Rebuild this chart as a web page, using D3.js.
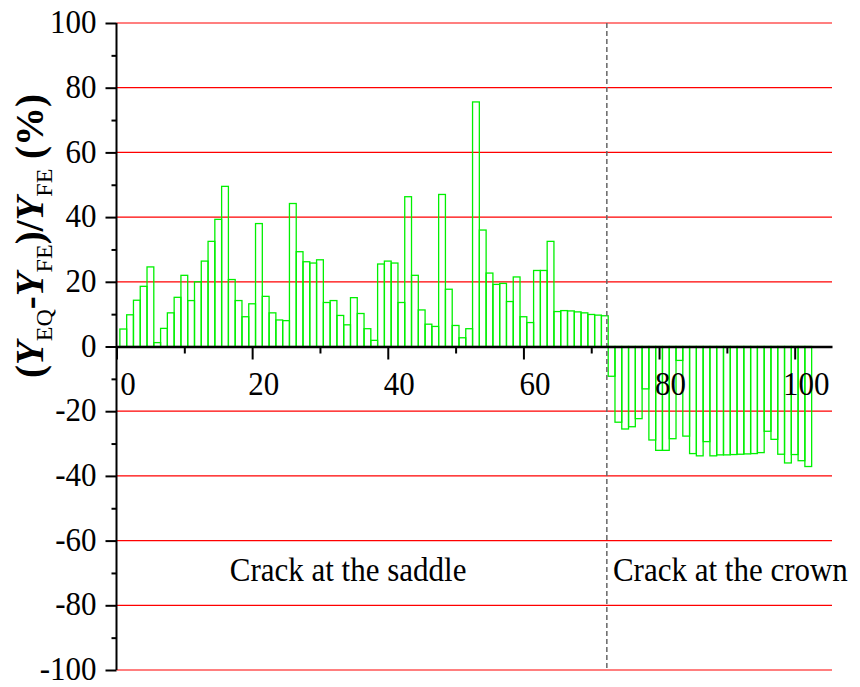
<!DOCTYPE html>
<meta charset="utf-8">
<script src="https://d3js.org/d3.v7.min.js"></script>
<style>
  body { margin: 0; background: #fff; }
  text { font-family: "Liberation Serif", "Times New Roman", serif; }
  .stretch { transform-box: fill-box; transform-origin: center; transform: scaleY(1.12); }
</style>
<div id="chart"></div>
<script>

// values, bar n is centred on x = n
var saddleValues = [5.4, 9.8, 14.3, 18.6, 24.6, 1.2, 5.6, 10.4, 15.2, 22.0,
  14.2, 20.0, 26.4, 32.5, 39.3, 49.5, 20.7, 14.2, 9.2, 13.2,
  38.0, 15.5, 10.4, 8.2, 8.0, 44.2, 29.3, 26.2, 25.8, 26.8,
  13.6, 14.2, 9.6, 6.7, 15.1, 10.2, 5.5, 1.9, 25.5, 26.4,
  25.8, 13.6, 46.3, 22.0, 11.3, 6.9, 6.2, 47.0, 17.7, 6.5,
  2.7, 5.5, 75.6, 36.0, 22.7, 19.2, 19.5, 13.9, 21.5, 9.2,
  7.4, 23.5, 23.5, 32.5, 10.8, 11.1, 11.0, 10.7, 10.4, 9.9,
  9.7, 9.5];
var crownValues = [-9.2, -23.4, -25.5, -24.8, -22.3, -13.1, -28.9, -32.1, -32.1, -28.5,
  -4.3, -27.7, -33.1, -33.8, -29.4, -33.8, -33.5, -33.5, -33.4, -33.3,
  -33.2, -33.1, -32.8, -26.2, -28.7, -33.3, -36.0, -33.4, -35.3, -37.1];

var xTicks = [0, 20, 40, 60, 80, 100];
var yTicks = [-100, -80, -60, -40, -20, 0, 20, 40, 60, 80, 100];
var divider = 72.3;
var labels = [
  {text: "Crack at the saddle", x: 16.7, y: -72.2},
  {text: "Crack at the crown", x: 73.2, y: -72.2}
];

var data = saddleValues.concat(crownValues).map(function (v, i) {
  return {n: i + 1, v: v};
});

var width = 860, height = 687;

var svg = d3.select("#chart")
  .append("svg")
    .attr("width", width)
    .attr("height", height);

var x = d3.scaleLinear().domain([0, 105.5]).range([116.5, 832]);
var y = d3.scaleLinear().domain([-100, 100]).range([670, 23]);

// plain hyphen for negatives, like the original
var fmt = function (d) { return String(d); };

// red grid lines
svg.append("g")
  .selectAll("line")
  .data(yTicks.filter(function (d) { return d !== 0; }))
  .enter()
  .append("line")
    .attr("x1", x(0)).attr("x2", x(105.5))
    .attr("y1", function (d) { return y(d); })
    .attr("y2", function (d) { return y(d); })
    .attr("stroke", "#ff0000")
    .attr("stroke-width", 1.2);

// bars (outline only)
svg.append("g")
  .selectAll("rect")
  .data(data)
  .enter()
  .append("rect")
    .attr("x", function (d) { return x(d.n - 0.5); })
    .attr("width", function (d) { return x(d.n + 0.5) - x(d.n - 0.5); })
    .attr("y", function (d) { return y(Math.max(0, d.v)); })
    .attr("height", function (d) { return Math.abs(y(d.v) - y(0)); })
    .attr("fill", "none")
    .attr("stroke", "#00f000")
    .attr("stroke-width", 1.3);

// dashed divider
svg.append("line")
  .attr("x1", x(divider)).attr("x2", x(divider))
  .attr("y1", y(100)).attr("y2", y(-100))
  .attr("stroke", "#666")
  .attr("stroke-width", 1.5)
  .attr("stroke-dasharray", "5,3");

// Y axis
var yAxis = svg.append("g")
  .attr("transform", "translate(" + x(0) + ",0)")
  .call(d3.axisLeft(y).tickValues(yTicks).tickFormat(fmt).tickSize(11).tickPadding(9));
yAxis.select(".domain").attr("stroke-width", 2).attr("d", "M0," + y(100) + "V" + y(-100));
yAxis.selectAll(".tick line").attr("stroke-width", 2);
yAxis.selectAll(".tick text")
  .attr("class", "stretch")
  .attr("font-size", 31)
  .attr("font-family", "Liberation Serif")
  .attr("fill", "#000")
  .attr("dy", "0.27em");

svg.append("g")
  .attr("transform", "translate(" + x(0) + ",0)")
  .call(d3.axisLeft(y).tickValues(d3.range(-90, 100, 20)).tickSize(5).tickFormat(""))
  .call(function (g) {
    g.select(".domain").remove();
    g.selectAll(".tick line").attr("stroke-width", 2);
  });

// X axis on the zero line
var xAxis = svg.append("g")
  .attr("transform", "translate(0," + y(0) + ")")
  .call(d3.axisBottom(x).tickValues(xTicks).tickFormat(fmt).tickSize(13).tickSizeOuter(0));
xAxis.select(".domain").attr("stroke-width", 2.5);
xAxis.selectAll(".tick line").attr("stroke-width", 2);
xAxis.selectAll(".tick text")
  .attr("class", "stretch")
  .attr("font-size", 31)
  .attr("font-family", "Liberation Serif")
  .attr("fill", "#000")
  .attr("x", 11)
  .attr("y", 25)
  .attr("dy", "0.71em");

svg.append("g")
  .attr("transform", "translate(0," + y(0) + ")")
  .call(d3.axisBottom(x).tickValues([10, 30, 50, 70, 90]).tickSize(7).tickFormat(""))
  .call(function (g) {
    g.select(".domain").remove();
    g.selectAll(".tick line").attr("stroke-width", 2);
  });

// region labels
svg.append("g")
  .selectAll("text")
  .data(labels)
  .enter()
  .append("text")
    .attr("class", "stretch")
    .attr("x", function (d) { return x(d.x); })
    .attr("y", function (d) { return y(d.y); })
    .attr("font-size", 31)
    .text(function (d) { return d.text; });

// Y axis title
var title = svg.append("text")
  .attr("transform", "translate(43,236) rotate(-90)")
  .attr("text-anchor", "middle")
  .attr("font-size", 39)
  .attr("font-weight", "bold");
title.append("tspan").text("(");
title.append("tspan").attr("font-style", "italic").text("Y");
title.append("tspan").attr("font-size", 24).attr("font-weight", "normal").attr("dy", 9).text("EQ");
title.append("tspan").attr("dy", -9).text("-");
title.append("tspan").attr("font-style", "italic").text("Y");
title.append("tspan").attr("font-size", 24).attr("font-weight", "normal").attr("dy", 9).text("FE");
title.append("tspan").attr("dy", -9).text(")/");
title.append("tspan").attr("font-style", "italic").text("Y");
title.append("tspan").attr("font-size", 24).attr("font-weight", "normal").attr("dy", 9).text("FE");
title.append("tspan").attr("dy", -9).text(" (%)");

</script>
